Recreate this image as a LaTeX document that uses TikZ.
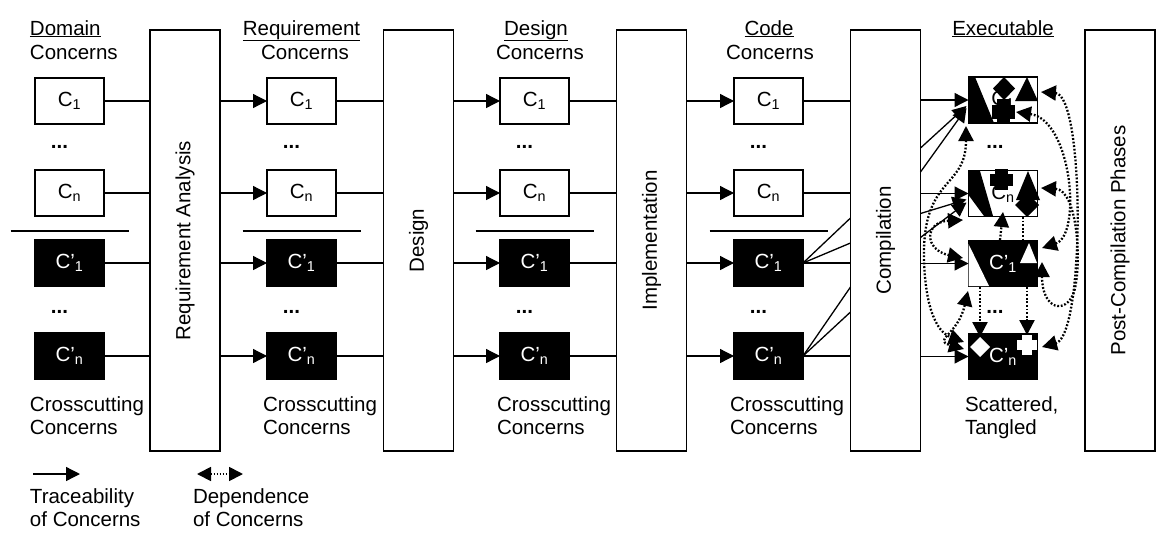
\documentclass[tikz,border=0pt]{standalone}
\usepackage{fontspec}
\setmainfont{Liberation Sans}
\usetikzlibrary{arrows.meta,calc}
\begin{document}
\begin{tikzpicture}[x=1pt,y=-1pt,
  font=\fontsize{20.5}{24}\selectfont,
  every node/.style={inner sep=0pt,outer sep=0pt},
  wb/.style={draw,line width=1.3pt,fill=white,minimum width=69pt,minimum height=46pt},
  bb/.style={draw,line width=1.3pt,fill=black,text=white,minimum width=69pt,minimum height=46pt},
  proc/.style={draw,line width=1.3pt,minimum width=70pt,minimum height=421pt},
  ln/.style={line width=1.3pt},
  sepline/.style={line width=1.5pt},
  arr/.style={line width=1.3pt,-{Triangle[length=14pt,width=14pt]}},
  dep/.style={line width=2.3pt,dash pattern=on 1.8pt off 1.8pt,{Triangle[length=15pt,width=15pt]}-{Triangle[length=15pt,width=15pt]}},
  depone/.style={line width=2.3pt,dash pattern=on 1.8pt off 1.8pt,-{Triangle[length=15pt,width=15pt]}},
  depplain/.style={line width=2.3pt,dash pattern=on 1.8pt off 1.8pt},
  legdep/.style={line width=1.8pt,dash pattern=on 1.5pt off 1.5pt,{Triangle[length=14pt,width=14pt]}-{Triangle[length=14pt,width=14pt]}},
  txt/.style={anchor=base west},
  ttl/.style={anchor=base},
  dts/.style={font=\fontsize{20.5}{24}\selectfont\bfseries}
]
\fill[white] (0,0) rectangle (1168,536);
\useasboundingbox (0,0) rectangle (1168,536);

% process boxes
\node[proc] (ra) at (185,240.5) {};
\node[rotate=90] at (ra.center) {Requirement Analysis};
\node[proc] (de) at (418.5,240.5) {};
\node[rotate=90] at (de.center) {Design};
\node[proc] (im) at (651.5,240.5) {};
\node[rotate=90] at (im.center) {Implementation};
\node[proc] (co) at (885.5,240.5) {};
\node[rotate=90] at (co.center) {Compilation};
\node[proc] (pc) at (1120,240.5) {};
\node[rotate=90] at (pc.center) {Post-Compilation Phases};

% concern columns
\foreach \cx/\p in {69.5/d,301.5/r,534.5/s,768.5/c}{
  \node[wb] (\p1) at (\cx,101) {C\textsubscript{1}};
  \node[dts] at (\cx-10,147) {...};
  \node[wb] (\p2) at (\cx,193) {C\textsubscript{n}};
  \draw[sepline] (\cx-59,231) -- (\cx+59,231);
  \node[bb] (\p3) at (\cx,263) {C’\textsubscript{1}};
  \node[dts] at (\cx-10,312) {...};
  \node[bb] (\p4) at (\cx,356) {C’\textsubscript{n}};
}

% titles
\node[txt] at (30,35) {\underline{Domain}};
\node[txt] at (30,59) {Concerns};
\node[ttl] at (301.5,35) {\underline{Requirement}};
\node[ttl] at (305,59) {Concerns};
\node[ttl] at (536,35) {\underline{Design}};
\node[ttl] at (540,59) {Concerns};
\node[ttl] at (769,35) {\underline{Code}};
\node[ttl] at (770,59) {Concerns};
\node[ttl] at (1003,35) {\underline{Executable}};

% bottom captions
\foreach \tx in {30,263,497,730}{
  \node[txt] at (\tx,411) {Crosscutting};
  \node[txt] at (\tx,434) {Concerns};
}
\node[txt] at (965,411) {Scattered,};
\node[txt] at (965,434) {Tangled};

% traceability connectors
\foreach \i in {1,2,3,4}{
  \draw[ln] (d\i.east) -- (d\i -| ra.west);
  \draw[arr] (r\i -| ra.east) -- (r\i.west);
  \draw[ln] (r\i.east) -- (r\i -| de.west);
  \draw[arr] (s\i -| de.east) -- (s\i.west);
  \draw[ln] (s\i.east) -- (s\i -| im.west);
  \draw[arr] (c\i -| im.east) -- (c\i.west);
  \draw[ln] (c\i.east) -- (c\i -| co.west);
}
\draw[ln] (c3.east) -- ($(co.west |- c3)+(0,-45)$);
\draw[ln] (c3.east) -- ($(co.west |- c3)+(0,-20)$);
\draw[ln] (c4.east) -- ($(co.west |- c4)+(0,-69)$);
\draw[ln] (c4.east) -- ($(co.west |- c4)+(0,-44)$);

% executable boxes
\node[wb] (e1) at (1003,100) {C\textsubscript{1}};
\fill (968.5,77) -- (975,77) -- (994,123) -- (968.5,123) -- cycle;
\fill (1004,77) -- (1015,88.5) -- (1004,100) -- (993,88.5) -- cycle;
\fill (1027,77) -- (1038,101) -- (1015,101) -- cycle;
\fill (997,99) rectangle (1010,123);
\fill (992,105) rectangle (1015,119);
\draw[ln] (e1.north west) rectangle (e1.south east);

\node[dts] at (995,147) {...};

\node[wb] (e2) at (1003,193.5) {C\textsubscript{n}};
\fill (968.5,171) -- (980,171) -- (993,216) -- (984,216) -- (968.5,195) -- cycle;
\fill (995,169) rectangle (1008,190);
\fill (990,174) rectangle (1013,186);
\fill (1028,171) -- (1040,200) -- (1016,200) -- cycle;
\fill (1027,193) -- (1039,205) -- (1027,217) -- (1015,205) -- cycle;
\draw[ln] (e2.north west) rectangle (e2.south east);

\node[bb] (e3) at (1003,263.5) {};
\fill[white] (968.5,244) -- (989,286) -- (968.5,286) -- cycle;
\fill[white] (1029,243) -- (1037,263) -- (1020,263) -- cycle;
\node[text=white] at (e3.center) {C’\textsubscript{1}};

\node[dts] at (995,312) {...};

\node[bb] (e4) at (1003,356.5) {};
\fill[white] (980,337) -- (990,347) -- (980,357) -- (970,347) -- cycle;
\fill[white] (1022,335) rectangle (1032,355);
\fill[white] (1017,340) rectangle (1037,350);
\node[text=white] at (e4.center) {C’\textsubscript{n}};

% compilation -> executable
\draw[arr] (co.east |- e1) -- (e1.west);
\draw[arr] ($(co.east |- e1)+(0,48)$) -- ($(e1.west)+(-2,6)$);
\draw[arr] ($(co.east |- e1)+(0,72)$) -- ($(e1.west)+(-2,8)$);
\draw[arr] (co.east |- e2) -- (e2.west);
\draw[arr] ($(co.east |- e2)+(0,20)$) -- ($(e2.west)+(-2,6)$);
\draw[arr] ($(co.east |- e2)+(0,44)$) -- ($(e2.west)+(-2,9)$);
\draw[arr] (co.east |- e3) -- (e3.west);
\draw[arr] (co.east |- e4) -- (e4.west);

% dependence among executable fragments
\coordinate (e1bl) at (966,126);
\coordinate (e2bl) at (963,220);
\coordinate (e3l) at (963,258);
\coordinate (e3bl) at (968,291);
\coordinate (e4tl) at (964,342);
\coordinate (e4l) at (964,349);
\coordinate (e1r) at (1041,92);
\coordinate (e1x) at (1016,112);
\coordinate (e2r) at (1041,188);
\coordinate (e3r) at (1042,248);
\coordinate (e3br) at (1042,262);
\coordinate (e4r) at (1042,347);
\draw[dep] (e1bl) .. controls (966,190) and (922,175) .. (924,260) .. controls (926,325) and (945,335) .. (e4tl);
\draw[dep] (e2bl) .. controls (924,222) and (924,250) .. (e3l);
\draw[dep] (e3bl) .. controls (958,335) and (932,340) .. (e4l);
\draw[dep] (e1r) .. controls (1085,95) and (1085,335) .. (e4r);
\draw[dep] (e1x) .. controls (1072,120) and (1082,235) .. (e3r);
\draw[dep] (e2r) .. controls (1078,190) and (1082,265) .. (1074,292) .. controls (1066,315) and (1042,310) .. (e3br);
\draw[depone] (1000,240) -- (1003,212);
\draw[depplain] (1023,217) -- (1023,240);
\draw[depone] (980,287) -- (980,337);
\draw[depone] (1027,287) -- (1027,335);

% legend
\coordinate (l1a) at (33,474);
\coordinate (l1b) at (80,474);
\draw[arr] (l1a) -- (l1b);
\node[txt] at (30,503) {Traceability};
\node[txt] at (30,526) {of Concerns};
\coordinate (l2a) at (197,474);
\coordinate (l2b) at (243,474);
\draw[legdep] (l2a) -- (l2b);
\node[txt] at (193,503) {Dependence};
\node[txt] at (193,526) {of Concerns};
\end{tikzpicture}
\end{document}
